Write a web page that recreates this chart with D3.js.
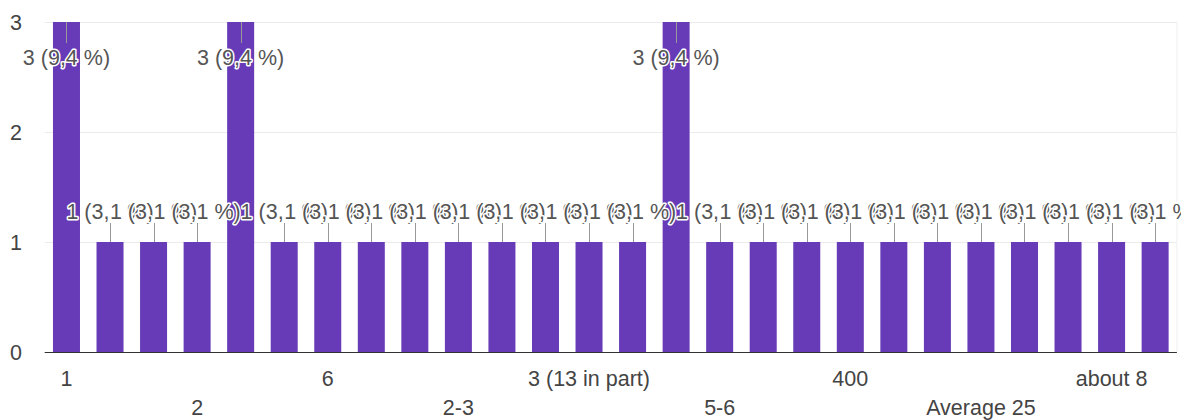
<!DOCTYPE html>
<html>
<head>
<meta charset="utf-8">
<script src="https://cdn.jsdelivr.net/npm/d3@7"></script>
<style>
  html, body { margin: 0; padding: 0; background: #fff; }
  svg { display: block; font-family: "Liberation Sans", Arial, sans-serif; }
</style>
</head>
<body>
<svg id="chart" width="1188" height="420"></svg>
<script>
// Answers in the order they were first given, and how many people gave each.
const categories = [
  "1", "3", "4", "2", "5", "30", "6", "8", "10", "2-3", "4-5", "15", "3 (13 in part)",
  "12", "7", "5-6", "20", "50", "400", "100", "1-2", "Average 25", "35", "60", "about 8", "9"
];
const counts = [
  3, 1, 1, 1, 3, 1, 1, 1, 1, 1, 1, 1, 1,
  1, 3, 1, 1, 1, 1, 1, 1, 1, 1, 1, 1, 1
];
const yTicks = [0, 1, 2, 3];

const width = 1188, height = 420;
const plot = { left: 44.7, right: 1176.9, top: 22, bottom: 352 };
const fontSize = 21.5;

const svg = d3.select("#chart");
svg.append("defs").append("clipPath").attr("id", "view")
  .append("rect").attr("x", 0).attr("y", 0).attr("width", 1181).attr("height", height);
const root = svg.append("g").attr("clip-path", "url(#view)");

const x = d3.scaleBand()
  .domain(categories)
  .range([plot.left, plot.right])
  .paddingInner(0.38)
  .paddingOuter(0.19);

const y = d3.scaleLinear()
  .domain([0, 3])
  .range([plot.bottom, plot.top]);

const total = d3.sum(counts);
const pct = d3.format(".1f");
const labelOf = v => `${v} (${pct(v / total * 100).replace(".", ",")} %)`;

// Horizontal gridlines
root.append("g")
  .selectAll("line")
  .data(yTicks.filter(t => t > 0))
  .join("line")
  .attr("x1", plot.left).attr("x2", plot.right)
  .attr("y1", d => Math.round(y(d)) + 0.5).attr("y2", d => Math.round(y(d)) + 0.5)
  .attr("stroke", "#ebebeb");

// Right edge of the plot area
root.append("line")
  .attr("x1", plot.right).attr("x2", plot.right)
  .attr("y1", plot.top).attr("y2", plot.bottom)
  .attr("stroke", "#f0f0f0");

// Y axis labels
const yAxis = d3.axisLeft(y).tickValues(yTicks).tickSize(0).tickPadding(0).tickFormat(d3.format("d"));
const yg = root.append("g").attr("transform", `translate(22,0)`).call(yAxis);
yg.select(".domain").remove();
yg.selectAll("text")
  .attr("fill", "#444")
  .attr("font-size", fontSize)
  .attr("font-family", "Liberation Sans, Arial, sans-serif")
  .attr("dy", "0.35em");

// Bars
const data = categories.map((c, i) => ({ c, v: counts[i], i }));
root.append("g")
  .selectAll("rect")
  .data(data)
  .join("rect")
  .attr("x", d => x(d.c))
  .attr("width", x.bandwidth())
  .attr("y", d => y(d.v))
  .attr("height", d => y(0) - y(d.v))
  .attr("fill", "#673ab7");

// Baseline
root.append("line")
  .attr("x1", plot.left).attr("x2", plot.right)
  .attr("y1", plot.bottom + 0.5).attr("y2", plot.bottom + 0.5)
  .attr("stroke", "#333");

// X axis labels: every third answer, staggered over two rows
const xAxis = d3.axisBottom(x)
  .tickValues(categories.filter((c, i) => i % 3 === 0))
  .tickSize(0).tickPadding(0);
const xg = root.append("g").attr("transform", `translate(0,0)`).call(xAxis);
xg.select(".domain").remove();
xg.selectAll(".tick text")
  .attr("fill", "#444")
  .attr("font-size", fontSize)
  .attr("font-family", "Liberation Sans, Arial, sans-serif")
  .attr("dy", null)
  .attr("y", d => (categories.indexOf(d) / 3) % 2 === 0 ? 386 : 415);

// Value annotations with a short stem; drawn left to right so each covers the previous one
const ann = root.append("g");
data.forEach(d => {
  const cx = x(d.c) + x.bandwidth() / 2;
  const top = y(d.v);
  const above = top - 42 >= plot.top;
  const stemEnd = above ? top - 19 : top + 21;
  const base = above ? top - 23 : top + 43;
  const g = ann.append("g");
  g.append("line")
    .attr("x1", Math.round(cx) + 0.5).attr("x2", Math.round(cx) + 0.5)
    .attr("y1", top).attr("y2", stemEnd)
    .attr("stroke", "#999");
  g.append("text")
    .attr("x", cx).attr("y", base)
    .attr("text-anchor", "middle")
    .attr("font-size", fontSize)
    .attr("fill", "#555")
    .attr("stroke", "#fff")
    .attr("stroke-width", 3)
    .attr("stroke-linejoin", "round")
    .attr("paint-order", "stroke")
    .text(labelOf(d.v));
});
</script>
</body>
</html>
